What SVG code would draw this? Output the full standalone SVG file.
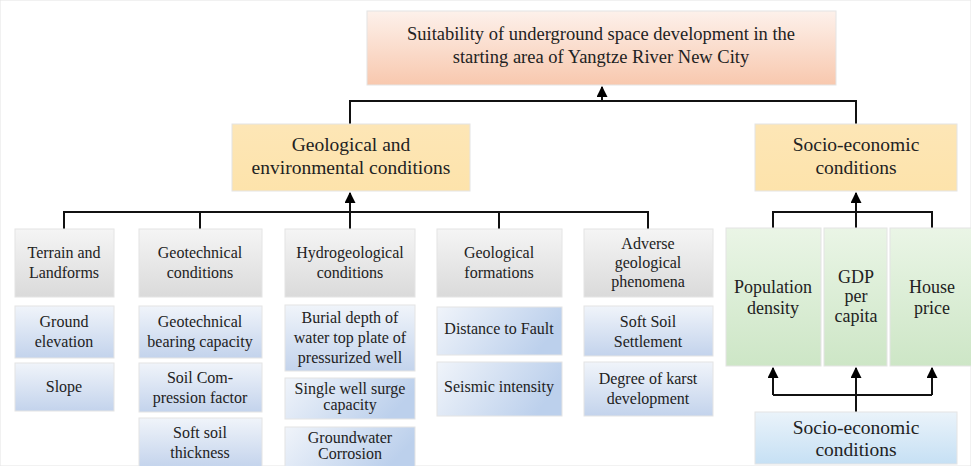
<svg xmlns="http://www.w3.org/2000/svg" width="971" height="466" viewBox="0 0 971 466">
<defs>
<linearGradient id="gTop" x1="0" y1="0" x2="0" y2="1"><stop offset="0" stop-color="#fdf1eb"/><stop offset="1" stop-color="#f8c8ae"/></linearGradient>
<linearGradient id="gOr" x1="0" y1="0" x2="0" y2="1"><stop offset="0" stop-color="#fde6b6"/><stop offset="1" stop-color="#fde3ab"/></linearGradient>
<linearGradient id="gGray" x1="0" y1="0" x2="0" y2="1"><stop offset="0" stop-color="#f5f5f5"/><stop offset="1" stop-color="#dadada"/></linearGradient>
<linearGradient id="gBlueV" x1="0" y1="0" x2="0" y2="1"><stop offset="0" stop-color="#f0f4fa"/><stop offset="1" stop-color="#c3d3ec"/></linearGradient>
<linearGradient id="gBlueH" x1="0" y1="0" x2="1" y2="0.3"><stop offset="0" stop-color="#f0f4fa"/><stop offset="1" stop-color="#bcd0ec"/></linearGradient>
<linearGradient id="gGreen" x1="0" y1="0" x2="0" y2="1"><stop offset="0" stop-color="#eaf5e6"/><stop offset="1" stop-color="#cde6c6"/></linearGradient>
<linearGradient id="gSky" x1="0" y1="0" x2="0" y2="1"><stop offset="0" stop-color="#eaf3fa"/><stop offset="1" stop-color="#c6e0f4"/></linearGradient>
<marker id="arr" viewBox="0 0 10 10" refX="9" refY="5" markerWidth="5.5" markerHeight="5.5" orient="auto" markerUnits="strokeWidth"><path d="M0,0 L10,5 L0,10 z" fill="#000"/></marker>
</defs>
<style>
text{font-family:"Times New Roman","Liberation Serif",Tinos,"DejaVu Serif","Noto Serif",serif;fill:#222;text-anchor:middle}
.t18{font-size:18.5px}
.t19{font-size:19.5px}
.t16{font-size:16px}
.t18g{font-size:18px}
rect{stroke:#e4e4e4;stroke-width:1}
.c{fill:none;stroke:#111;stroke-width:2}
</style>
<rect width="971" height="466" fill="#fff" stroke="none"/>

<g id="connectors">
<polyline class="c" points="350,124 350,101 856,101 856,124"/>
<line class="c" x1="602" y1="101" x2="602" y2="87" marker-end="url(#arr)"/>
<polyline class="c" points="64,229 64,212 648,212 648,229"/>
<line class="c" x1="200" y1="212" x2="200" y2="229"/>
<line class="c" x1="499" y1="212" x2="499" y2="229"/>
<line class="c" x1="350" y1="229" x2="350" y2="193" marker-end="url(#arr)"/>
<polyline class="c" points="773,229 773,212 932,212 932,229"/>
<line class="c" x1="856" y1="229" x2="856" y2="193" marker-end="url(#arr)"/>
<polyline class="c" points="773,395 932,395"/>
<line class="c" x1="773" y1="395" x2="773" y2="368" marker-end="url(#arr)"/>
<line class="c" x1="932" y1="395" x2="932" y2="368" marker-end="url(#arr)"/>
<line class="c" x1="856" y1="412" x2="856" y2="368" marker-end="url(#arr)"/>
</g>

<g id="top"><rect x="367" y="11" width="469" height="74" fill="url(#gTop)"/>
<text class="t18" x="601" y="40">Suitability of underground space development in the</text>
<text class="t18" x="601" y="63">starting area of Yangtze River New City</text></g>

<g id="geo"><rect x="232" y="124" width="238" height="67" fill="url(#gOr)"/>
<text class="t19" x="351" y="151">Geological and</text>
<text class="t19" x="351" y="174">environmental conditions</text></g>

<g id="socio"><rect x="755" y="124" width="202" height="67" fill="url(#gOr)"/>
<text class="t19" x="856" y="151">Socio-economic</text>
<text class="t19" x="856" y="174">conditions</text></g>

<g id="terrain"><rect x="15" y="229" width="99" height="68" fill="url(#gGray)"/>
<text class="t16" x="64" y="258">Terrain and</text>
<text class="t16" x="64" y="278">Landforms</text></g>
<g id="geotech"><rect x="139" y="229" width="123" height="68" fill="url(#gGray)"/>
<text class="t16" x="200" y="258">Geotechnical</text>
<text class="t16" x="200" y="278">conditions</text></g>
<g id="hydro"><rect x="285" y="229" width="130" height="68" fill="url(#gGray)"/>
<text class="t16" x="350" y="258">Hydrogeological</text>
<text class="t16" x="350" y="278">conditions</text></g>
<g id="formations"><rect x="437" y="229" width="125" height="68" fill="url(#gGray)"/>
<text class="t16" x="499" y="258">Geological</text>
<text class="t16" x="499" y="278">formations</text></g>
<g id="adverse"><rect x="584" y="229" width="129" height="68" fill="url(#gGray)"/>
<text class="t16" x="648" y="249">Adverse</text>
<text class="t16" x="648" y="268">geological</text>
<text class="t16" x="648" y="287">phenomena</text></g>

<g id="ground"><rect x="15" y="306" width="99" height="52" fill="url(#gBlueV)"/>
<text class="t16" x="64" y="327">Ground</text>
<text class="t16" x="64" y="347">elevation</text></g>
<g id="slope"><rect x="15" y="363" width="99" height="48" fill="url(#gBlueV)"/>
<text class="t16" x="64" y="392">Slope</text></g>

<g id="bearing"><rect x="139" y="306" width="123" height="52" fill="url(#gBlueV)"/>
<text class="t16" x="200" y="327">Geotechnical</text>
<text class="t16" x="200" y="347">bearing capacity</text></g>
<g id="compression"><rect x="139" y="363" width="123" height="49" fill="url(#gBlueV)"/>
<text class="t16" x="200" y="383">Soil Com-</text>
<text class="t16" x="200" y="403">pression factor</text></g>
<g id="softsoil"><rect x="139" y="418" width="123" height="50" fill="url(#gBlueV)"/>
<text class="t16" x="200" y="438">Soft soil</text>
<text class="t16" x="200" y="458">thickness</text></g>

<g id="burial"><rect x="285" y="305" width="130" height="66" fill="url(#gBlueV)"/>
<text class="t16" x="350" y="323">Burial depth of</text>
<text class="t16" x="350" y="343">water top plate of</text>
<text class="t16" x="350" y="363">pressurized well</text></g>
<g id="surge"><rect x="285" y="378" width="130" height="41" fill="url(#gBlueH)"/>
<text class="t16" x="350" y="394">Single well surge</text>
<text class="t16" x="350" y="410">capacity</text></g>
<g id="corrosion"><rect x="285" y="427" width="130" height="41" fill="url(#gBlueH)"/>
<text class="t16" x="350" y="443">Groundwater</text>
<text class="t16" x="350" y="459">Corrosion</text></g>

<g id="fault"><rect x="437" y="307" width="125" height="48" fill="url(#gBlueH)"/>
<text class="t16" x="499" y="334">Distance to Fault</text></g>
<g id="seismic"><rect x="437" y="362" width="125" height="54" fill="url(#gBlueH)"/>
<text class="t16" x="499" y="392">Seismic intensity</text></g>

<g id="settlement"><rect x="584" y="306" width="129" height="50" fill="url(#gBlueV)"/>
<text class="t16" x="648" y="327">Soft Soil</text>
<text class="t16" x="648" y="347">Settlement</text></g>
<g id="karst"><rect x="584" y="362" width="129" height="54" fill="url(#gBlueV)"/>
<text class="t16" x="648" y="384">Degree of karst</text>
<text class="t16" x="648" y="404">development</text></g>

<g id="population"><rect x="726" y="228" width="95" height="138" fill="url(#gGreen)"/>
<text class="t18g" x="773" y="293">Population</text>
<text class="t18g" x="773" y="314">density</text></g>
<g id="gdp"><rect x="824" y="228" width="63" height="138" fill="url(#gGreen)"/>
<text class="t18g" x="856" y="283">GDP</text>
<text class="t18g" x="856" y="302">per</text>
<text class="t18g" x="856" y="322">capita</text></g>
<g id="house"><rect x="890" y="228" width="82" height="138" fill="url(#gGreen)"/>
<text class="t18g" x="932" y="293">House</text>
<text class="t18g" x="932" y="314">price</text></g>

<g id="socio-bottom"><rect x="755" y="412" width="202" height="52" fill="url(#gSky)"/>
<text class="t19" x="856" y="434">Socio-economic</text>
<text class="t19" x="856" y="456">conditions</text></g>
</svg>
